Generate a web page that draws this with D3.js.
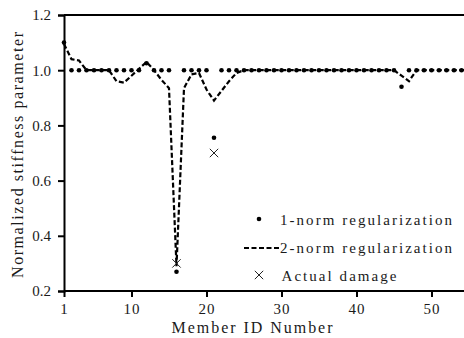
<!DOCTYPE html>
<html>
<head>
<meta charset="utf-8">
<script src="https://cdn.jsdelivr.net/npm/d3@7"></script>
<style>
  body { margin: 0; background: #fff; }
  svg text { font-family: "Liberation Serif", "Times New Roman", Times, serif; fill: #1a1a1a; }
</style>
</head>
<body>
<div id="chart"></div>
<script>
// member IDs along the x axis
const members = d3.range(1, 56);

// 1-norm regularization (dots)
const oneNorm = [
  1.10, 1.00, 1.00, 1.00, 1.00, 1.00, 1.00, 1.00, 1.00, 1.00,
  1.00, 1.025, 1.00, 1.00, 1.00, 0.27, 1.00, 1.00, 1.00, 1.00,
  0.755, 1.00, 1.00, 1.00, 1.00, 1.00, 1.00, 1.00, 1.00, 1.00,
  1.00, 1.00, 1.00, 1.00, 1.00, 1.00, 1.00, 1.00, 1.00, 1.00,
  1.00, 1.00, 1.00, 1.00, 1.00, 0.94, 1.00, 1.00, 1.00, 1.00,
  1.00, 1.00, 1.00, 1.00, 1.00
];

// 2-norm regularization (dashed line)
const twoNorm = [
  1.095, 1.04, 1.035, 1.00, 1.00, 1.00, 1.00, 0.96, 0.955, 0.98,
  1.005, 1.03, 1.00, 0.965, 0.935, 0.29, 0.935, 0.985, 0.99, 0.93,
  0.89, 0.925, 0.96, 0.99, 1.00, 1.00, 1.00, 1.00, 1.00, 1.00,
  1.00, 1.00, 1.00, 1.00, 1.00, 1.00, 1.00, 1.00, 1.00, 1.00,
  1.00, 1.00, 1.00, 1.00, 1.00, 0.98, 0.96, 1.00, 1.00, 1.00,
  1.00, 1.00, 1.00, 1.00, 1.00
];

// actual damage (crosses)
const damageMembers = [16, 21];
const damageValues = [0.30, 0.70];

const xTicks = [1, 10, 20, 30, 40, 50];
const yTicks = [0.2, 0.4, 0.6, 0.8, 1.0, 1.2];

const font = '"Liberation Serif", "Times New Roman", Times, serif';
const width = 464, height = 338;
const margin = { top: 15, left: 64, bottom: 47 };

const svg = d3.select('#chart')
  .append('svg')
  .attr('width', width)
  .attr('height', height);

const x = d3.scaleLinear().domain([1, 55]).range([margin.left, margin.left + 54 * 7.5]);
const y = d3.scaleLinear().domain([0.2, 1.2]).range([height - margin.bottom, margin.top]);

// frame (top line)
svg.append('line')
  .attr('x1', margin.left).attr('x2', width)
  .attr('y1', y(1.2)).attr('y2', y(1.2))
  .attr('stroke', '#000').attr('stroke-width', 2);

// X axis
const xAxis = svg.append('g')
  .attr('transform', 'translate(0,' + y(0.2) + ')')
  .call(d3.axisBottom(x).tickValues(xTicks).tickFormat(d3.format('d')).tickSizeOuter(0).tickSize(6).tickPadding(6));
xAxis.select('.domain').attr('d', 'M' + margin.left + ',0H' + width);
xAxis.selectAll('line, path').attr('stroke', '#000').attr('stroke-width', 2);
xAxis.selectAll('text')
  .attr('font-family', font)
  .attr('font-size', 15).style('letter-spacing', '1px').attr('fill', '#1a1a1a');

// Y axis
const yAxis = svg.append('g')
  .attr('transform', 'translate(' + margin.left + ',0)')
  .call(d3.axisLeft(y).tickValues(yTicks).tickFormat(d3.format('.1f')).tickSizeOuter(0).tickSize(6).tickPadding(7));
yAxis.selectAll('line, path').attr('stroke', '#000').attr('stroke-width', 2);
yAxis.selectAll('text')
  .attr('font-family', font)
  .attr('font-size', 15).attr('fill', '#1a1a1a');

// axis titles
svg.append('text')
  .attr('x', 171.5).attr('y', 333)
  .attr('textLength', 161).attr('lengthAdjust', 'spacing')
  .attr('font-family', font)
  .attr('font-size', 16)
  .text('Member ID Number');

svg.append('text')
  .attr('transform', 'translate(22.5,155) rotate(-90)')
  .attr('x', -123).attr('y', 0)
  .attr('textLength', 246).attr('lengthAdjust', 'spacing')
  .attr('font-family', font)
  .attr('font-size', 16)
  .text('Normalized stiffness parameter');

// 2-norm dashed line
const line = d3.line()
  .x((d, i) => x(members[i]))
  .y(d => y(d));
svg.append('path')
  .datum(twoNorm)
  .attr('d', line)
  .attr('fill', 'none')
  .attr('stroke', '#000')
  .attr('stroke-width', 2.2)
  .attr('stroke-dasharray', '5,2.5');

// 1-norm dots
svg.selectAll('circle.one')
  .data(oneNorm)
  .enter()
  .append('circle')
  .attr('class', 'one')
  .attr('cx', (d, i) => x(members[i]))
  .attr('cy', d => y(d))
  .attr('r', 2.3)
  .attr('fill', '#000');

// actual damage crosses
const cross = 4.2;
const crossPath = (cx, cy) =>
  'M' + (cx - cross) + ',' + (cy - cross) + 'L' + (cx + cross) + ',' + (cy + cross) +
  'M' + (cx - cross) + ',' + (cy + cross) + 'L' + (cx + cross) + ',' + (cy - cross);
svg.selectAll('path.dmg')
  .data(damageValues)
  .enter()
  .append('path')
  .attr('class', 'dmg')
  .attr('d', (d, i) => crossPath(x(damageMembers[i]), y(d)))
  .attr('stroke', '#222')
  .attr('stroke-width', 1)
  .attr('fill', 'none');

// legend
const legend = svg.append('g').attr('font-family', font).attr('font-size', 15);
legend.append('circle').attr('cx', 259).attr('cy', 219).attr('r', 2.3).attr('fill', '#000');
legend.append('text').attr('x', 280).attr('y', 225)
  .attr('textLength', 172).attr('lengthAdjust', 'spacing')
  .text('1-norm regularization');

legend.append('line').attr('x1', 244).attr('x2', 280).attr('y1', 248).attr('y2', 248)
  .attr('stroke', '#000').attr('stroke-width', 2.2).attr('stroke-dasharray', '5,2.5');
legend.append('text').attr('x', 280).attr('y', 253)
  .attr('textLength', 172).attr('lengthAdjust', 'spacing')
  .text('2-norm regularization');

legend.append('path')
  .attr('d', crossPath(259, 275))
  .attr('stroke', '#222').attr('stroke-width', 1).attr('fill', 'none');
legend.append('text').attr('x', 281.5).attr('y', 281)
  .attr('textLength', 115).attr('lengthAdjust', 'spacing')
  .text('Actual damage');
</script>
</body>
</html>
